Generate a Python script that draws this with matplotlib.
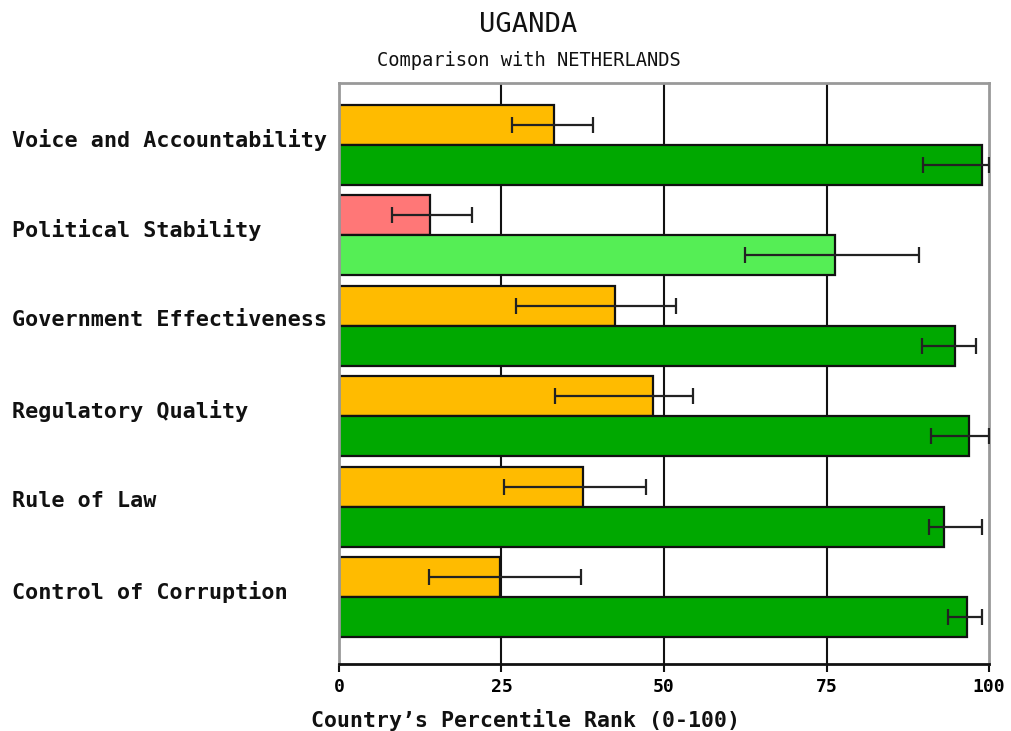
import matplotlib
matplotlib.use("Agg")
import matplotlib.pyplot as plt
import numpy as np

# Governance indicators, top to bottom
indicators = [
    "Voice and Accountability",
    "Political Stability",
    "Government Effectiveness",
    "Regulatory Quality",
    "Rule of Law",
    "Control of Corruption",
]

# Uganda percentile ranks with margins of error (low, high)
uganda = [33.0, 14.0, 42.4, 48.3, 37.6, 24.7]
uganda_low = [26.6, 8.1, 27.2, 33.3, 25.4, 13.9]
uganda_high = [39.0, 20.5, 51.8, 54.4, 47.2, 37.2]
uganda_colors = ["#FFBB00", "#FF7777", "#FFBB00", "#FFBB00", "#FFBB00", "#FFBB00"]

# Netherlands percentile ranks with margins of error (low, high)
netherlands = [98.9, 76.3, 94.8, 96.9, 93.1, 96.6]
netherlands_low = [89.9, 62.5, 89.7, 91.1, 90.8, 93.7]
netherlands_high = [100.0, 89.3, 98.0, 100.0, 98.9, 98.9]
netherlands_colors = ["#00A800", "#55EE55", "#00A800", "#00A800", "#00A800", "#00A800"]

x_ticks = [0, 25, 50, 75, 100]

W, H = 1012, 731
fig = plt.figure(figsize=(W / 100, H / 100), dpi=100)
fig.patch.set_facecolor("white")

left, right, top, bottom = 339, 989, 83, 664
ax = fig.add_axes([left / W, 1 - bottom / H, (right - left) / W, (bottom - top) / H])

pos = np.arange(len(indicators))
bh = 0.4425

mono = "DejaVu Sans Mono"

for xv in x_ticks[1:-1]:
    ax.axvline(xv, color="#111111", lw=1.5, zorder=1)

ax.barh(pos - bh / 2, uganda, height=bh, color=uganda_colors,
        edgecolor="#111111", linewidth=1.6, zorder=2)
ax.barh(pos + bh / 2, netherlands, height=bh, color=netherlands_colors,
        edgecolor="#111111", linewidth=1.6, zorder=2)

u = np.array(uganda)
n = np.array(netherlands)
ax.errorbar(u, pos - bh / 2,
            xerr=[u - np.array(uganda_low), np.array(uganda_high) - u],
            fmt="none", ecolor="#222222", elinewidth=1.6, capsize=6, capthick=1.6, zorder=3)
ax.errorbar(n, pos + bh / 2,
            xerr=[n - np.array(netherlands_low), np.array(netherlands_high) - n],
            fmt="none", ecolor="#222222", elinewidth=1.6, capsize=6, capthick=1.6, zorder=3)

ax.set_xlim(0, 100)
ax.set_ylim(5.741, -0.686)

for s in ["top", "right", "left"]:
    ax.spines[s].set_color("#999999")
    ax.spines[s].set_linewidth(2)
ax.spines["bottom"].set_color("#111111")
ax.spines["bottom"].set_linewidth(2)

ax.set_yticks([])
ax.set_xticks(x_ticks)
ax.set_xticklabels([str(t) for t in x_ticks], fontfamily=mono,
                   fontweight="bold", fontsize=13)
ax.tick_params(axis="x", direction="out", length=6, width=1.5,
               color="#111111", pad=4)

for i, name in enumerate(indicators):
    y_pix = top + (i + 0.686 - 0.06) / (5.741 + 0.686) * (bottom - top)
    fig.text(12 / W, 1 - y_pix / H, name, fontfamily=mono, fontweight="bold",
             fontsize=15.7, ha="left", va="center", color="#111111")

fig.text(528 / W, 1 - 25 / H, "UGANDA", fontfamily=mono, fontsize=19.5,
         ha="center", va="center", color="#111111")
fig.text(529 / W, 1 - 61 / H, "Comparison with NETHERLANDS", fontfamily=mono,
         fontsize=13.5, ha="center", va="center", color="#111111")
fig.text(526 / W, 1 - 720 / H, "Country\u2019s Percentile Rank (0-100)",
         fontfamily=mono, fontweight="bold", fontsize=15.5,
         ha="center", va="center", color="#111111")

fig.savefig("out.png", dpi=100, facecolor="white")
